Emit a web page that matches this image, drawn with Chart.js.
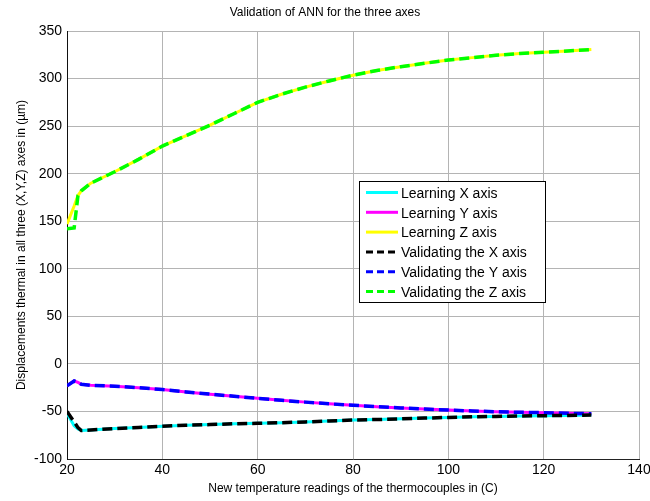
<!DOCTYPE html>
<html>
<head>
<meta charset="utf-8">
<script src="https://cdn.jsdelivr.net/npm/chart.js@4/dist/chart.umd.min.js"></script>
<style>
  html, body { margin: 0; padding: 0; background: #fff; }
  #wrap { width: 650px; height: 501px; }
</style>
</head>
<body>
<div id="wrap"><canvas id="chart" width="650" height="501"></canvas></div>
<script>
// temperature readings (x) shared by all series
const temps = [20, 21.5, 22.3, 23, 25, 30, 35, 40, 45, 50, 55, 60, 65, 70, 75, 80, 85, 90, 95, 100, 105, 110, 115, 120, 125, 130];

const learnX = [-52, -65, -68.5, -70, -69.5, -68, -66.8, -65.5, -64.5, -63.8, -63, -62.5, -61.8, -61, -60, -59, -58.5, -57.8, -57, -56.3, -55.7, -55.2, -54.8, -54.5, -54.2, -53.8];
const validX = [-50, -61, -67, -70, -69.5, -68, -66.8, -65.5, -64.5, -63.8, -63, -62.5, -61.8, -61, -60, -59, -58.5, -57.8, -57, -56.3, -55.7, -55.2, -54.8, -54.5, -54.2, -53.8];

const learnY = [-23, -18, -19.5, -21.5, -22.5, -23.5, -25, -27, -29.5, -31.8, -34, -36.2, -38.3, -40.2, -42, -43.5, -45, -46.3, -47.5, -48.5, -49.5, -50.3, -50.9, -51.3, -51.9, -52.4];
const validY = [-23, -18, -19.5, -21.5, -22.5, -23.5, -25, -27, -29.5, -31.8, -34, -36.2, -38.3, -40.2, -42, -43.5, -45, -46.3, -47.5, -48.5, -49.5, -50.3, -50.9, -51.3, -51.9, -52.4];

const learnZ = [147, 166, 177, 182, 190, 202, 215, 229, 240, 251, 263, 275, 283.5, 291, 297.5, 303.5, 308.5, 312.5, 316, 319.5, 322, 324.5, 326.3, 327.6, 329, 330.5];
const validZ = [142, 143, 177, 182, 190, 202, 215, 229, 240, 251, 263, 275, 283.5, 291, 297.5, 303.5, 308.5, 312.5, 316, 319.5, 322, 324.5, 326.3, 327.6, 329, 330.5];

const seriesLabels = [
  "Learning X axis", "Learning Y axis", "Learning Z axis",
  "Validating the X axis", "Validating the Y axis", "Validating the Z axis"
];
const seriesValues = [learnX, learnY, learnZ, validX, validY, validZ];
const seriesColors = ["#00ffff", "#ff00ff", "#ffff00", "#000000", "#0000ff", "#00ff00"];

const xTicks = [20, 40, 60, 80, 100, 120, 140];
const yTicks = [-100, -50, 0, 50, 100, 150, 200, 250, 300, 350];

const FONT = "'Liberation Sans', Arial, sans-serif";

const datasets = seriesValues.map((vals, i) => {
  const dashed = i >= 3;
  return {
    label: seriesLabels[i],
    data: vals.map((v, k) => ({ x: temps[k], y: v })),
    borderColor: seriesColors[i],
    backgroundColor: seriesColors[i],
    borderWidth: dashed ? 3.5 : 3,
    borderDash: dashed ? [10, 5] : [],
    pointRadius: 0,
    tension: 0,
    fill: false,
    // validating lines sit on top of the learning ones
    order: dashed ? 0 : 1,
  };
});

// legend box drawn inside the plot, like the matlab one
const boxLegend = {
  id: "boxLegend",
  afterDatasetsDraw(chart) {
    const ctx = chart.ctx;
    const x0 = 359, y0 = 181, w = 186, h = 121;
    ctx.save();
    ctx.fillStyle = "#fff";
    ctx.fillRect(x0, y0, w, h);
    ctx.strokeStyle = "#000";
    ctx.lineWidth = 1;
    ctx.strokeRect(x0 + 0.5, y0 + 0.5, w, h);
    ctx.font = "14px " + FONT;
    ctx.textBaseline = "middle";
    chart.data.datasets.forEach((ds, i) => {
      const y = 192.5 + i * 19.8;
      ctx.strokeStyle = ds.borderColor;
      ctx.lineWidth = 3;
      ctx.setLineDash(ds.borderDash.length ? [7, 4] : []);
      ctx.beginPath();
      ctx.moveTo(366, y);
      ctx.lineTo(398, y);
      ctx.stroke();
      ctx.setLineDash([]);
      ctx.fillStyle = "#000";
      ctx.fillText(ds.label, 401, y + 1.5);
    });
    ctx.restore();
  },
};

new Chart(document.getElementById("chart"), {
  type: "line",
  data: { datasets },
  options: {
    responsive: false,
    animation: false,
    devicePixelRatio: 1,
    layout: { padding: { left: 0, right: 0, top: 0, bottom: 0 } },
    plugins: {
      legend: { display: false },
      tooltip: { enabled: false },
      title: {
        display: true,
        text: "Validation of ANN for the three axes",
        color: "#000",
        font: { family: FONT, size: 12, weight: "normal" },
        padding: { top: 5, bottom: 11.6 },
      },
    },
    scales: {
      x: {
        type: "linear",
        min: 20,
        max: 140,
        afterBuildTicks: (s) => { s.ticks = xTicks.map((v) => ({ value: v })); },
        afterFit: (s) => { s.height = 42; s.paddingRight = 11; },
        grid: { color: "#b4b4b4", drawTicks: false },
        border: { color: "#222" },
        ticks: { color: "#000", padding: 3, font: { family: FONT, size: 14 } },
        title: {
          display: true,
          text: "New temperature readings of the thermocouples in (C)",
          color: "#000",
          font: { family: FONT, size: 12 },
          padding: { top: 0, bottom: 5 },
        },
      },
      y: {
        min: -100,
        max: 350,
        afterBuildTicks: (s) => { s.ticks = yTicks.map((v) => ({ value: v })); },
        afterFit: (s) => { s.width = 67; },
        grid: { color: "#b4b4b4", drawTicks: false },
        border: { color: "#111" },
        ticks: { color: "#000", padding: 5, font: { family: FONT, size: 14 } },
        title: {
          display: true,
          text: "Displacements thermal in all three (X,Y,Z) axes in (µm)",
          color: "#000",
          font: { family: FONT, size: 12 },
          padding: { top: 14, bottom: 0 },
        },
      },
    },
  },
  plugins: [boxLegend],
});
</script>
</body>
</html>
